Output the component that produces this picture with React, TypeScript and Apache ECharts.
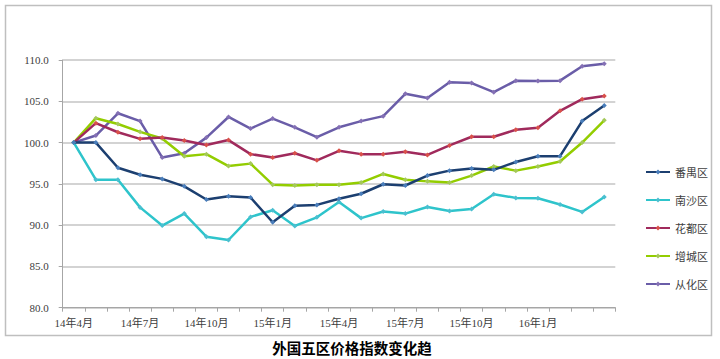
import React, { useEffect, useRef } from "react";
import * as echarts from "echarts";

const months: string[] = [
  "14年4月", "14年5月", "14年6月", "14年7月", "14年8月", "14年9月",
  "14年10月", "14年11月", "14年12月", "15年1月", "15年2月", "15年3月",
  "15年4月", "15年5月", "15年6月", "15年7月", "15年8月", "15年9月",
  "15年10月", "15年11月", "15年12月", "16年1月", "16年2月", "16年3月", "16年4月",
];

const panyu: number[] = [
  100, 100, 96.95, 96.1, 95.6, 94.7, 93.1, 93.5, 93.35, 90.35, 92.35, 92.45,
  93.2, 93.8, 94.95, 94.8, 96.0, 96.6, 96.85, 96.7, 97.65, 98.35, 98.35, 102.6, 104.5,
];
const nansha: number[] = [
  100, 95.5, 95.5, 92.15, 89.95, 91.4, 88.6, 88.2, 91.0, 91.8, 89.9, 90.95,
  92.8, 90.85, 91.65, 91.4, 92.2, 91.7, 91.95, 93.75, 93.3, 93.25, 92.5, 91.6, 93.4,
];
const huadu: number[] = [
  100, 102.35, 101.25, 100.45, 100.6, 100.25, 99.7, 100.3, 98.6, 98.2, 98.7, 97.85,
  99.0, 98.6, 98.6, 98.9, 98.5, 99.65, 100.7, 100.7, 101.55, 101.8, 103.85, 105.25, 105.65,
];
const zengcheng: number[] = [
  100, 102.95, 102.25, 101.3, 100.5, 98.35, 98.6, 97.15, 97.45, 94.9, 94.8, 94.9,
  94.9, 95.15, 96.2, 95.5, 95.3, 95.15, 96.0, 97.1, 96.6, 97.1, 97.7, 100.0, 102.7,
];
const conghua: number[] = [
  100, 100.85, 103.55, 102.6, 98.2, 98.7, 100.6, 103.1, 101.7, 102.9, 101.85, 100.65,
  101.85, 102.6, 103.2, 105.9, 105.4, 107.3, 107.2, 106.1, 107.5, 107.45, 107.5, 109.25, 109.55,
];

const seriesNames: string[] = ["番禺区", "南沙区", "花都区", "增城区", "从化区"];
const lineColors: string[] = ["#1C3F70", "#2EC4CB", "#A02A5C", "#93CD00", "#6A5DA8"];
const markerColors: string[] = ["#4A7EBB", "#4BBFD0", "#D9514A", "#A4C85A", "#8470B4"];
const titleText = "外国五区价格指数变化趋";

const numFont = "'Liberation Serif', 'Noto Sans CJK SC', serif";
const cjkFont = "'Noto Sans CJK SC', sans-serif";

export default function App() {
  const ref = useRef<HTMLDivElement>(null);

  useEffect(() => {
    document.body.style.margin = "0";
    if (!ref.current) return;
    const chart = echarts.init(ref.current, undefined, { renderer: "svg" });
    const datasets = [panyu, nansha, huadu, zengcheng, conghua];

    chart.setOption({
      animation: false,
      backgroundColor: "#ffffff",
      grid: { left: 62.7, right: 104.7, top: 60, bottom: 51.3 },
      legend: {
        orient: "vertical",
        left: 640,
        top: 160,
        itemWidth: 24,
        itemHeight: 6,
        itemGap: 14,
        data: seriesNames,
        textStyle: { fontSize: 11, lineHeight: 14, color: "#404040", fontFamily: cjkFont },
      },
      xAxis: {
        type: "category",
        data: months,
        boundaryGap: true,
        axisLine: { show: true, lineStyle: { color: "#A6A6A6", width: 1 } },
        axisTick: { show: true, interval: 0, length: 4, lineStyle: { color: "#A6A6A6" } },
        axisLabel: {
          interval: (i: number) => i % 3 === 0 && i < 24,
          color: "#404040",
          fontSize: 11,
          margin: 10,
          fontFamily: numFont,
        },
        splitLine: { show: false },
      },
      yAxis: {
        type: "value",
        min: 80,
        max: 110,
        interval: 5,
        axisLine: { show: true, lineStyle: { color: "#A6A6A6", width: 1 } },
        axisTick: { show: true, length: 4, lineStyle: { color: "#A6A6A6" } },
        axisLabel: {
          formatter: (v: number) => v.toFixed(1),
          color: "#404040",
          fontSize: 11,
          margin: 14,
          fontFamily: numFont,
        },
        splitLine: { show: true, lineStyle: { color: "#C4C4C4", width: 1.5 } },
      },
      series: seriesNames.map((name, k) => ({
        name,
        type: "line",
        data: datasets[k],
        symbol: "diamond",
        symbolSize: 5,
        showSymbol: true,
        lineStyle: { color: lineColors[k], width: 2.5 },
        itemStyle: { color: markerColors[k], borderWidth: 0 },
        z: 10 - k,
      })),
      graphic: [
        {
          type: "rect",
          shape: { x: 5.5, y: 5.5, width: 706, height: 330 },
          style: { fill: "none", stroke: "#BFBFBF", lineWidth: 1.5 },
          silent: true,
        },
        {
          type: "text",
          x: 352,
          y: 347,
          style: {
            text: titleText,
            fontSize: 14.5,
            fontWeight: "bold",
            fill: "#000000",
            fontFamily: cjkFont,
            align: "center",
            verticalAlign: "middle",
          },
        },
      ],
    });

    return () => chart.dispose();
  }, []);

  return <div ref={ref} style={{ width: 720, height: 359 }} />;
}
